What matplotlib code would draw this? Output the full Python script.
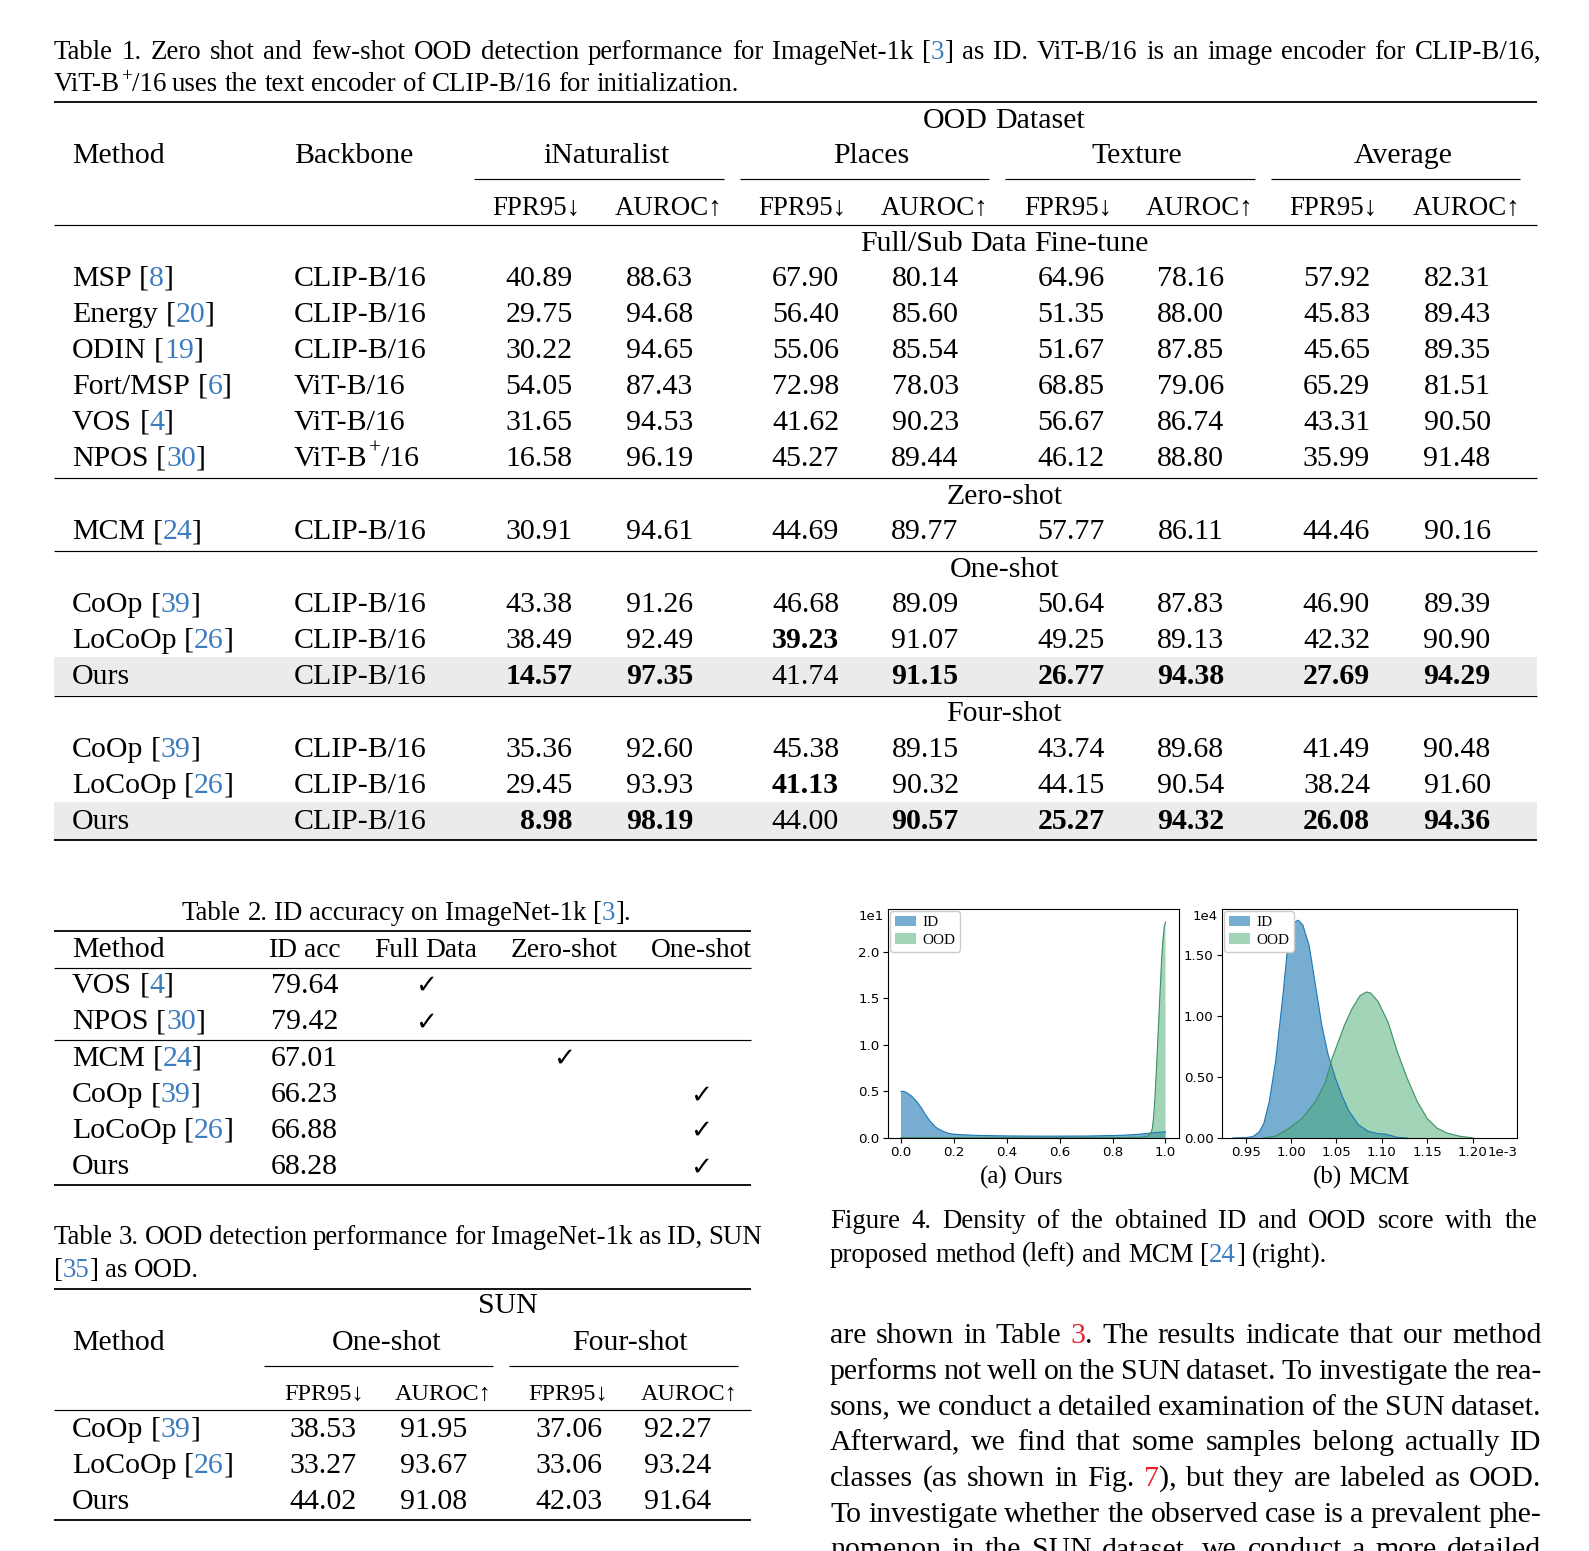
import matplotlib
matplotlib.use("Agg")
import matplotlib.pyplot as plt
from matplotlib.patches import Rectangle

plt.rcParams['font.family'] = ['Liberation Serif', 'DejaVu Serif', 'DejaVu Sans']

# ---------------------------------------------------------------- data
# Table 1
t1_methods = ["MSP", "Energy", "ODIN", "Fort/MSP", "VOS", "NPOS", "MCM",
              "CoOp", "LoCoOp", "Ours", "CoOp", "LoCoOp", "Ours"]
t1_refs = ["8", "20", "19", "6", "4", "30", "24", "39", "26", "", "39", "26", ""]
t1_backbones = ["CLIP-B/16", "CLIP-B/16", "CLIP-B/16", "ViT-B/16", "ViT-B/16",
                "ViT-B^+^/16", "CLIP-B/16", "CLIP-B/16", "CLIP-B/16",
                "CLIP-B/16", "CLIP-B/16", "CLIP-B/16", "CLIP-B/16"]
t1_groups = ["Full/Sub Data Fine-tune", "Zero-shot", "One-shot", "Four-shot"]
t1_group_rows = [6, 1, 3, 3]
t1_group_bold = [False, False, True, True]
t1_datasets = ["iNaturalist", "Places", "Texture", "Average"]
t1_metrics = ["FPR95↓", "AUROC↑"]
inat_fpr = [40.89, 29.75, 30.22, 54.05, 31.65, 16.58, 30.91, 43.38, 38.49, 14.57, 35.36, 29.45, 8.98]
inat_auroc = [88.63, 94.68, 94.65, 87.43, 94.53, 96.19, 94.61, 91.26, 92.49, 97.35, 92.60, 93.93, 98.19]
places_fpr = [67.90, 56.40, 55.06, 72.98, 41.62, 45.27, 44.69, 46.68, 39.23, 41.74, 45.38, 41.13, 44.00]
places_auroc = [80.14, 85.60, 85.54, 78.03, 90.23, 89.44, 89.77, 89.09, 91.07, 91.15, 89.15, 90.32, 90.57]
texture_fpr = [64.96, 51.35, 51.67, 68.85, 56.67, 46.12, 57.77, 50.64, 49.25, 26.77, 43.74, 44.15, 25.27]
texture_auroc = [78.16, 88.00, 87.85, 79.06, 86.74, 88.80, 86.11, 87.83, 89.13, 94.38, 89.68, 90.54, 94.32]
avg_fpr = [57.92, 45.83, 45.65, 65.29, 43.31, 35.99, 44.46, 46.90, 42.32, 27.69, 41.49, 38.24, 26.08]
avg_auroc = [82.31, 89.43, 89.35, 81.51, 90.50, 91.48, 90.16, 89.39, 90.90, 94.29, 90.48, 91.60, 94.36]
t1_highlight = ["Ours"]

# Table 2
t2_methods = ["VOS", "NPOS", "MCM", "CoOp", "LoCoOp", "Ours"]
t2_refs = ["4", "30", "24", "39", "26", ""]
t2_acc = [79.64, 79.42, 67.01, 66.23, 66.88, 68.28]
t2_settings = ["Full Data", "Zero-shot", "One-shot"]
t2_setting_of = ["Full Data", "Full Data", "Zero-shot", "One-shot", "One-shot", "One-shot"]

# Table 3
t3_methods = ["CoOp", "LoCoOp", "Ours"]
t3_refs = ["39", "26", ""]
t3_shots = ["One-shot", "Four-shot"]
sun_one_fpr = [38.53, 33.27, 44.02]
sun_one_auroc = [91.95, 93.67, 91.08]
sun_four_fpr = [37.06, 33.06, 42.03]
sun_four_auroc = [92.27, 93.24, 91.64]

# Figure 4 densities (a): score in [0,1], density in units of 1e1
a_id_x = [0.0, 0.01, 0.02, 0.03, 0.04, 0.05, 0.06, 0.07, 0.08, 0.09, 0.10, 0.11, 0.12, 0.13,
          0.14, 0.16, 0.18, 0.20, 0.25, 0.30, 0.40, 0.50, 0.60, 0.70, 0.80, 0.85, 0.90,
          0.94, 0.97, 1.00]
a_id_y = [0.50, 0.50, 0.49, 0.47, 0.45, 0.42, 0.39, 0.35, 0.31, 0.26, 0.22, 0.18, 0.15, 0.12,
          0.10, 0.07, 0.05, 0.04, 0.032, 0.027, 0.022, 0.02, 0.02, 0.021, 0.026, 0.031, 0.04,
          0.052, 0.06, 0.065]
a_ood_x = [0.0, 0.2, 0.4, 0.6, 0.8, 0.9, 0.93, 0.945, 0.95, 0.955, 0.96, 0.965, 0.97,
           0.975, 0.98, 0.985, 0.99, 0.995, 1.0]
a_ood_y = [0.004, 0.003, 0.003, 0.003, 0.004, 0.006, 0.015, 0.05, 0.10, 0.22, 0.42, 0.70,
           1.00, 1.30, 1.60, 1.90, 2.12, 2.26, 2.32]
# (b): score in units of 1e-3, density in units of 1e4
b_id_x = [0.936, 0.950, 0.958, 0.965, 0.970, 0.976, 0.983, 0.991, 0.996, 1.003, 1.008,
          1.013, 1.020, 1.027, 1.034, 1.041, 1.049, 1.056, 1.063, 1.074, 1.085, 1.096,
          1.103, 1.110, 1.117, 1.128]
b_id_y = [0.0, 0.003, 0.012, 0.05, 0.12, 0.30, 0.63, 1.17, 1.55, 1.77, 1.79, 1.75, 1.58,
          1.25, 0.92, 0.68, 0.49, 0.35, 0.23, 0.11, 0.055, 0.035, 0.032, 0.02, 0.005, 0.0]
b_ood_x = [0.969, 0.983, 0.998, 1.012, 1.027, 1.038, 1.045, 1.052, 1.059, 1.067, 1.076,
           1.083, 1.088, 1.096, 1.107, 1.117, 1.128, 1.139, 1.150, 1.161, 1.172, 1.186, 1.201]
b_ood_y = [0.0, 0.015, 0.08, 0.16, 0.30, 0.46, 0.65, 0.79, 0.93, 1.06, 1.17, 1.20, 1.19,
           1.12, 0.95, 0.71, 0.49, 0.30, 0.16, 0.08, 0.04, 0.014, 0.0]
a_xticks = [0.0, 0.2, 0.4, 0.6, 0.8, 1.0]
a_yticks = [0.0, 0.5, 1.0, 1.5, 2.0]
b_xticks = [0.95, 1.00, 1.05, 1.10, 1.15, 1.20]
b_yticks = [0.0, 0.5, 1.0, 1.5]

# ---------------------------------------------------------------- canvas
W, H = 1589, 1551
fig = plt.figure(figsize=(W / 100, H / 100), dpi=100)
ax0 = fig.add_axes([0, 0, 1, 1])
ax0.set_xlim(0, 1568)
ax0.set_ylim(1531, 0)
ax0.axis('off')
PX2U = 1568 / 1589
renderer = fig.canvas.get_renderer()

K = 'black'
BLUE = '#3d7cbf'
RED = '#e8252a'
GRAY = '#ebebeb'

FS = 21.5      # table / body 10pt
FS_CAP = 19.4  # captions 9pt
FS_SUB = 19.4
FS_SUB3 = 17.5
FS_T2H = 19.8
FS_SUBCAP = 18.0
SUP_SCALE = 0.72
SUP_RAISE = 0.40

_cache = {}


def tw(s, size, weight='normal'):
    key = (s, size, weight)
    if key not in _cache:
        t = ax0.text(0, 0, s, fontsize=size, fontweight=weight)
        _cache[key] = t.get_window_extent(renderer).width * PX2U
        t.remove()
    return _cache[key]


def em(size):
    return size / 72 * 100 * PX2U


def space_w(size):
    return tw('a a', size) - tw('aa', size)


def sup_split(s, color=K):
    """'ViT-B^+^/16' -> pieces with the middle part as superscript"""
    parts = s.split('^')
    out = []
    for i, p in enumerate(parts):
        if p:
            out.append((p, color, 'sup' if i % 2 == 1 else 'n'))
    return out


def norm(pieces):
    out = []
    for p in pieces:
        if len(p) == 2:
            out.extend(sup_split(p[0], p[1]))
        else:
            out.append(p)
    return out


def pw(p, size, weight):
    s, c, kind = p
    return tw(s, size * SUP_SCALE if kind == 'sup' else size, weight)


def words_of(pieces):
    words = [[]]
    for txt, col, kind in pieces:
        parts = txt.split(' ')
        for i, p in enumerate(parts):
            if i > 0:
                words.append([])
            if p:
                words[-1].append((p, col, kind))
    return [w for w in words if w]


def line(pieces, x0, yc, size, x1=None, align='left', weight='normal'):
    if isinstance(pieces, str):
        pieces = [(pieces, K)]
    words = words_of(norm(pieces))
    ws = [sum(pw(p, size, weight) for p in w) for w in words]
    if align == 'justify' and len(words) > 1:
        gap = (x1 - x0 - sum(ws)) / (len(words) - 1)
        start = x0
    else:
        gap = space_w(size)
        total = sum(ws) + gap * (len(words) - 1)
        start = {'left': x0, 'center': x0 - total / 2, 'right': x0 - total}[align]
    yb = yc + 0.31 * em(size)
    x = start
    for w, wd in zip(words, ws):
        xx = x
        for p in w:
            s, c, kind = p
            if kind == 'sup':
                ax0.text(xx + 1, yb - SUP_RAISE * em(size), s, fontsize=size * SUP_SCALE,
                         fontweight=weight, color=c, ha='left', va='baseline')
                xx += pw(p, size, weight) + 1
            else:
                ax0.text(xx, yb, s, fontsize=size, fontweight=weight, color=c,
                         ha='left', va='baseline')
                xx += pw(p, size, weight)
        x += wd + gap


def cite(name, ref):
    if not ref:
        return [(name, K)]
    return [(name + ' [', K), (ref, BLUE), (']', K)]


def rule(y, x0, x1, lw):
    ax0.plot([x0, x1], [y, y], color=K, lw=lw, solid_capstyle='butt')


TOP, MID = 1.3, 0.85

# ---------------------------------------------------------------- Table 1
line([("Table 1. Zero shot and few-shot OOD detection performance for ImageNet-1k [", K),
      ("3", BLUE), ("] as ID. ViT-B/16 is an image encoder for CLIP-B/16,", K)],
     53, 50, FS_CAP, x1=1521, align='justify')
line("ViT-B^+^/16 uses the text encoder of CLIP-B/16 for initialization.", 53, 82, FS_CAP)

T1X0, T1X1 = 53, 1517
rule(101, T1X0, T1X1, TOP)
line("OOD Dataset", 991, 117, FS, align='center')
line("Method", 71, 152, FS)
line("Backbone", 290, 152, FS)
grp_cx = [598, 860, 1122, 1385]
grp_span = [(468, 714), (730, 976), (992, 1238), (1254, 1500)]
sub_cx = [(529, 660), (792, 922), (1054, 1184), (1316, 1447)]
for name, cx, (s0, s1), (f, a) in zip(t1_datasets, grp_cx, grp_span, sub_cx):
    line(name, cx, 152, FS, align='center')
    rule(177, s0, s1, MID)
    line(t1_metrics[0], f, 203, FS_SUB, align='center')
    line(t1_metrics[1], a, 203, FS_SUB, align='center')
rule(222, T1X0, T1X1, MID)

cols = [inat_fpr, inat_auroc, places_fpr, places_auroc,
        texture_fpr, texture_auroc, avg_fpr, avg_auroc]
col_lower_better = [True, False] * 4
col_right = [565, 684, 828, 946, 1090, 1208, 1352, 1471]

group_title_y = [239, 488, 560, 703]
group_first_row_y = [273, 523, 595, 738]
group_end_rule = [472, 544, 687, 829]
ROW = 35.5
r = 0
for g, (gname, nrows, dobold) in enumerate(zip(t1_groups, t1_group_rows, t1_group_bold)):
    line(gname, 991, group_title_y[g], FS, align='center')
    rows = list(range(r, r + nrows))
    for k, i in enumerate(rows):
        y = group_first_row_y[g] + k * ROW
        if t1_methods[i] in t1_highlight:
            ax0.add_patch(Rectangle((T1X0, y - 17), T1X1 - T1X0, 37, facecolor=GRAY,
                                    edgecolor='none', zorder=0))
        line(cite(t1_methods[i], t1_refs[i]), 71, y, FS)
        line(t1_backbones[i], 290, y, FS)
        for c, (vals, low, xr) in enumerate(zip(cols, col_lower_better, col_right)):
            grp_vals = [vals[j] for j in rows]
            best = min(grp_vals) if low else max(grp_vals)
            bold = dobold and vals[i] == best
            line(f"{vals[i]:.2f}", xr, y, FS, align='right',
                 weight='bold' if bold else 'normal')
    rule(group_end_rule[g], T1X0, T1X1, TOP if g == len(t1_groups) - 1 else MID)
    r += nrows

# ---------------------------------------------------------------- Table 2
line([("Table 2. ID accuracy on ImageNet-1k [", K), ("3", BLUE), ("].", K)],
     401, 900, FS_CAP, align='center')
T2X0, T2X1 = 53, 741
rule(919, T2X0, T2X1, TOP)
line("Method", 71, 936, FS)
line("ID acc", 265, 936, FS_T2H)
set_cx = [420, 557, 692]
for s, cx in zip(t2_settings, set_cx):
    line(s, cx, 936, FS_T2H, align='center')
rule(956, T2X0, T2X1, MID)
t2_y = [971, 1007, 1043, 1079, 1114, 1150]
for i in range(len(t2_methods)):
    y = t2_y[i]
    line(cite(t2_methods[i], t2_refs[i]), 71, y, FS)
    line(f"{t2_acc[i]:.2f}", 267, y, FS)
    cx = set_cx[t2_settings.index(t2_setting_of[i])]
    ax0.text(cx, y + 0.31 * em(FS), '✓', family='DejaVu Sans', fontsize=19,
             ha='center', va='baseline', color=K)
rule(1027, T2X0, T2X1, MID)
rule(1170, T2X0, T2X1, TOP)

# ---------------------------------------------------------------- Table 3
line("Table 3. OOD detection performance for ImageNet-1k as ID, SUN",
     53, 1220, FS_CAP, x1=752, align='justify')
line([("[", K), ("35", BLUE), ("] as OOD.", K)], 53, 1252, FS_CAP)
rule(1272, T2X0, T2X1, TOP)
line("SUN", 501, 1287, FS, align='center')
line("Method", 71, 1323, FS)
shot_cx = [381, 622]
shot_span = [(261, 486), (502, 728)]
t3_sub_cx = [(320, 437), (561, 680)]
for s, cx, (s0, s1), (f, a) in zip(t3_shots, shot_cx, shot_span, t3_sub_cx):
    line(s, cx, 1323, FS, align='center')
    rule(1348, s0, s1, MID)
    line("FPR95↓", f, 1375, FS_SUB3, align='center')
    line("AUROC↑", a, 1375, FS_SUB3, align='center')
rule(1392, T2X0, T2X1, MID)
t3_cols = [sun_one_fpr, sun_one_auroc, sun_four_fpr, sun_four_auroc]
t3_col_cx = [319, 428, 561, 669]
for i in range(len(t3_methods)):
    y = 1409 + i * ROW
    line(cite(t3_methods[i], t3_refs[i]), 71, y, FS)
    for vals, cx in zip(t3_cols, t3_col_cx):
        line(f"{vals[i]:.2f}", cx, y, FS, align='center')
rule(1500, T2X0, T2X1, TOP)

# ---------------------------------------------------------------- Figure 4
ID_C = '#1f77b4'
OOD_C = '#46aa73'
TICK_FS = 9.6


def density_axes(rect, id_x, id_y, ood_x, ood_y):
    ax = fig.add_axes(rect)
    ax.fill_between(id_x, id_y, 0, facecolor=ID_C, alpha=0.6, label='ID')
    ax.plot(id_x, id_y, color=ID_C, lw=0.8)
    ax.fill_between(ood_x, ood_y, 0, facecolor=OOD_C, alpha=0.5, label='OOD')
    ax.plot(ood_x, ood_y, color='#3b8f63', lw=0.8)
    ax.legend(loc='upper left', prop={'family': 'Liberation Serif', 'size': 11},
              handlelength=1.4, borderaxespad=0.15, borderpad=0.3, labelspacing=0.25,
              handletextpad=0.4, framealpha=1.0, edgecolor='#cccccc')
    for sp in ax.spines.values():
        sp.set_linewidth(0.8)
    ax.tick_params(length=3.5, width=0.8, pad=2.5)
    return ax


axA = density_axes([0.5587, 0.2663, 0.1831, 0.1477], a_id_x, a_id_y, a_ood_x, a_ood_y)
axA.set_xlim(-0.05, 1.05)
axA.set_ylim(0, 2.46)
axA.set_xticks(a_xticks, [f"{v:.1f}" for v in a_xticks], family='DejaVu Sans', fontsize=TICK_FS)
axA.set_yticks(a_yticks, [f"{v:.1f}" for v in a_yticks], family='DejaVu Sans', fontsize=TICK_FS)
axA.text(-0.015, 0.965, "1e1", transform=axA.transAxes, ha='right', va='center',
         family='DejaVu Sans', fontsize=TICK_FS)

axB = density_axes([0.7691, 0.2663, 0.1856, 0.1477], b_id_x, b_id_y, b_ood_x, b_ood_y)
axB.set_xlim(0.924, 1.249)
axB.set_ylim(0, 1.883)
axB.set_xticks(b_xticks, [f"{v:.2f}" for v in b_xticks], family='DejaVu Sans', fontsize=TICK_FS)
axB.set_yticks(b_yticks, [f"{v:.2f}" for v in b_yticks], family='DejaVu Sans', fontsize=TICK_FS)
axB.text(-0.015, 0.965, "1e4", transform=axB.transAxes, ha='right', va='center',
         family='DejaVu Sans', fontsize=TICK_FS)
# offset text sits on the tick-label line, right after "1.20"
xl = axB.get_xticklabels()[-1]
bb = xl.get_window_extent(renderer)
axB.annotate("1e-3", xy=(bb.x1, bb.y0), xycoords='figure pixels', ha='left',
             va='bottom', family='DejaVu Sans', fontsize=TICK_FS)

line("(a) Ours", 1008, 1161, FS_SUBCAP, align='center')
line("(b) MCM", 1343, 1161, FS_SUBCAP, align='center')
line("Figure 4. Density of the obtained ID and OOD score with the",
     819, 1204, FS_CAP, x1=1517, align='justify')
line([("proposed method (left) and MCM [", K), ("24", BLUE), ("] (right).", K)],
     819, 1237, FS_CAP)

# ---------------------------------------------------------------- body text
body = [
    [("are shown in Table ", K), ("3", RED), (". The results indicate that our method", K)],
    [("performs not well on the SUN dataset. To investigate the rea-", K)],
    [("sons, we conduct a detailed examination of the SUN dataset.", K)],
    [("Afterward, we find that some samples belong actually ID", K)],
    [("classes (as shown in Fig. ", K), ("7", RED), ("), but they are labeled as OOD.", K)],
    [("To investigate whether the observed case is a prevalent phe-", K)],
    [("nomenon in the SUN dataset, we conduct a more detailed", K)],
]
for k, pcs in enumerate(body):
    line(pcs, 819, 1317 + k * 35.2, FS, x1=1521, align='justify')

fig.savefig("out.png", dpi=100)
